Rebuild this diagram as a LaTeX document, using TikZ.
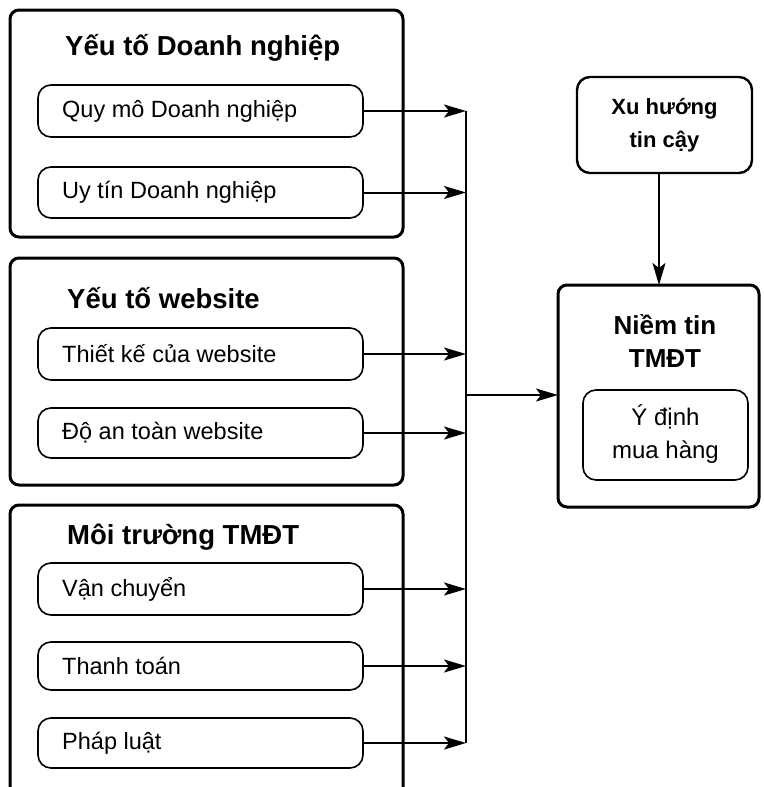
\documentclass[tikz,border=0pt]{standalone}
\usepackage{fontspec}
\setmainfont{Liberation Sans}
\usetikzlibrary{arrows.meta,calc}
\tikzset{
  outerbox/.style={draw=black,line width=3pt,rounded corners=9pt},
  innerbox/.style={draw=black,line width=1.6pt,rounded corners=13pt},
  titletext/.style={anchor=west,inner sep=0pt,font=\fontsize{27.5}{32}\selectfont\bfseries},
  itemtext/.style={anchor=west,inner sep=0pt,font=\fontsize{23.5}{28}\selectfont},
  conn/.style={line width=2pt,-{Stealth[length=22pt,width=13pt,inset=5pt]}},
  busline/.style={line width=2.4pt},
}
\begin{document}
\begin{tikzpicture}[x=1pt,y=-1pt]
\useasboundingbox (0,0) rectangle (763,787);
% group 1
\draw[outerbox] (10,10) rectangle (403,237);
\node[titletext] (t1) at (65,48) {Yếu tố Doanh nghiệp};
\draw[innerbox] (38,85) rectangle (363,137);
\coordinate (b11) at (363,111);
\node[itemtext] (i11) at (62,111) {Quy mô Doanh nghiệp};
\draw[innerbox] (38,167) rectangle (363,218);
\coordinate (b12) at (363,192.5);
\node[itemtext] (i12) at (62,192.5) {Uy tín Doanh nghiệp};
% group 2
\draw[outerbox] (10,258) rectangle (403,485);
\node[titletext] (t2) at (67,298) {Yếu tố website};
\draw[innerbox] (38,328) rectangle (363,380);
\coordinate (b21) at (363,354);
\node[itemtext] (i21) at (62,354) {Thiết kế của website};
\draw[innerbox] (38,408) rectangle (363,458);
\coordinate (b22) at (363,433);
\node[itemtext] (i22) at (62,433) {Độ an toàn website};
% group 3 (open at bottom)
\draw[outerbox] (10,790) -- (10,505) -- (403,505) -- (403,790);
\node[titletext] (t3) at (67,537) {Môi trường TMĐT};
\draw[innerbox] (38,563) rectangle (363,615);
\coordinate (b31) at (363,589);
\node[itemtext] (i31) at (62,589) {Vận chuyển};
\draw[innerbox] (38,642) rectangle (363,690);
\coordinate (b32) at (363,666);
\node[itemtext] (i32) at (62,666) {Thanh toán};
\draw[innerbox] (38,718) rectangle (363,768);
\coordinate (b33) at (363,743);
\node[itemtext] (i33) at (62,743) {Pháp luật};
% bus
\coordinate (bustop) at (466,111);
\coordinate (busbot) at (466,743);
\coordinate (busmid) at (466,395);
\draw[busline] (bustop) -- (busbot);
\foreach \b in {b11,b12,b21,b22,b31,b32,b33}{
  \draw[conn] (\b) -- (\b -| bustop);
}
% right side
\draw[outerbox,line width=2.4pt,rounded corners=13pt] (577,77) rectangle (752,173);
\node[align=center,inner sep=0pt,font=\fontsize{22}{33}\selectfont\bfseries] (xh) at (664.5,125) {Xu hướng\\tin cậy};
\coordinate (xhs) at (659,173);
\draw[outerbox] (558,285) rectangle (759,507);
\coordinate (ntn) at (659,285);
\coordinate (ntw) at (558,395);
\node[align=center,inner sep=0pt,font=\fontsize{26}{33}\selectfont\bfseries] (nt) at (665,341) {Niềm tin\\TMĐT};
\draw[innerbox] (583,390) rectangle (748,480);
\node[align=center,inner sep=0pt,font=\fontsize{24}{33}\selectfont] (yd) at (665.5,434) {Ý định\\mua hàng};
\draw[conn] (xhs) -- (ntn);
\draw[conn] (busmid) -- (ntw);
\end{tikzpicture}
\end{document}
